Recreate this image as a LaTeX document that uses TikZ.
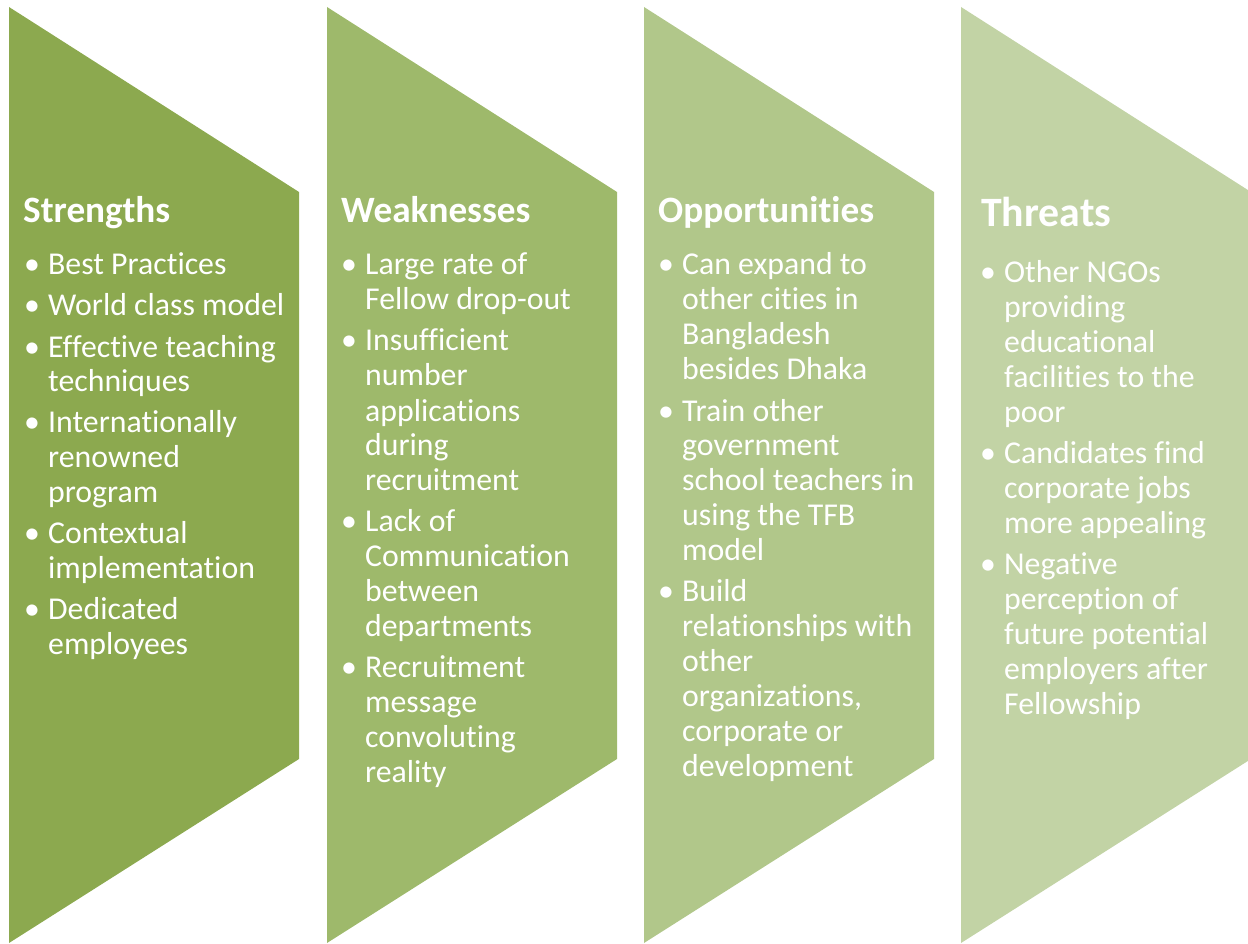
\documentclass[tikz,border=0pt]{standalone}
\usepackage{fontspec}
\setmainfont{Carlito}[Ligatures=NoCommon]
\usepackage{array}
\usetikzlibrary{positioning}
\definecolor{strengthgreen}{HTML}{8CA94F}
\definecolor{weakgreen}{HTML}{9EB96B}
\definecolor{oppgreen}{HTML}{B1C78A}
\definecolor{threatgreen}{HTML}{C2D3A5}
\tikzstyle{heading} = [anchor=base west, inner sep=0pt, text=white,
font=\fontsize{37.2}{40}\selectfont\bfseries]
\tikzstyle{points} = [inner sep=0pt, text=white,
font=\fontsize{31.8}{35}\selectfont]
\newcolumntype{B}{@{}p{24pt}@{}l@{}}

\begin{document}
\begin{tikzpicture}[x=1pt, y=-1pt]
    \useasboundingbox (0,0) rectangle (1248,944);
    %% Chevrons
    \fill [strengthgreen] (9,7) -- (299,192) -- (299,759) -- (9,943) -- cycle;
    \fill [weakgreen] (327,7) -- (617,192) -- (617,759) -- (327,943) -- cycle;
    \fill [oppgreen] (644,7) -- (934,192) -- (934,759) -- (644,943) -- cycle;
    \fill [threatgreen] (961,7) -- (1251,192) -- (1251,759) -- (961,943) -- cycle;
    %% Headings
    \node [heading] (S) at (23,223) {Strengths};
    \node [heading] (W) at (341,223) {Weaknesses};
    \node [heading] (O) at (658,223) {Opportunities};
    \node [heading, font=\fontsize{41.8}{44}\selectfont\bfseries] (T) at (981,227) {Threats};
    %% Bullet lists
    \node [points, below=52pt of S.base west, anchor=base west, xshift=1pt] (SList) {%
      \begin{tabular}[t]{B}
        \textbullet & Best Practices\\[6pt]
        \textbullet & World class model\\[6pt]
        \textbullet & Effective teaching\\
                    & techniques\\[6pt]
        \textbullet & Internationally\\
                    & renowned\\
                    & program\\[6pt]
        \textbullet & Contextual\\
                    & implementation\\[6pt]
        \textbullet & Dedicated\\
                    & employees
      \end{tabular}};
    \node [points, below=52pt of W.base west, anchor=base west] (WList) {%
      \begin{tabular}[t]{B}
        \textbullet & Large rate of\\
                    & Fellow drop-out\\[6pt]
        \textbullet & Insufficient\\
                    & number\\
                    & applications\\
                    & during\\
                    & recruitment\\[6pt]
        \textbullet & Lack of\\
                    & Communication\\
                    & between\\
                    & departments\\[6pt]
        \textbullet & Recruitment\\
                    & message\\
                    & convoluting\\
                    & reality
      \end{tabular}};
    \node [points, below=52pt of O.base west, anchor=base west] (OList) {%
      \begin{tabular}[t]{B}
        \textbullet & Can expand to\\
                    & other cities in\\
                    & Bangladesh\\
                    & besides Dhaka\\[6pt]
        \textbullet & Train other\\
                    & government\\
                    & school teachers in\\
                    & using the TFB\\
                    & model\\[6pt]
        \textbullet & Build\\
                    & relationships with\\
                    & other\\
                    & organizations,\\
                    & corporate or\\
                    & development
      \end{tabular}};
    \node [points, below=56pt of T.base west, anchor=base west, xshift=-1pt] (TList) {%
      \begin{tabular}[t]{B}
        \textbullet & Other NGOs\\
                    & providing\\
                    & educational\\
                    & facilities to the\\
                    & poor\\[6pt]
        \textbullet & Candidates find\\
                    & corporate jobs\\
                    & more appealing\\[6pt]
        \textbullet & Negative\\
                    & perception of\\
                    & future potential\\
                    & employers after\\
                    & Fellowship
      \end{tabular}};
\end{tikzpicture}
\end{document}
